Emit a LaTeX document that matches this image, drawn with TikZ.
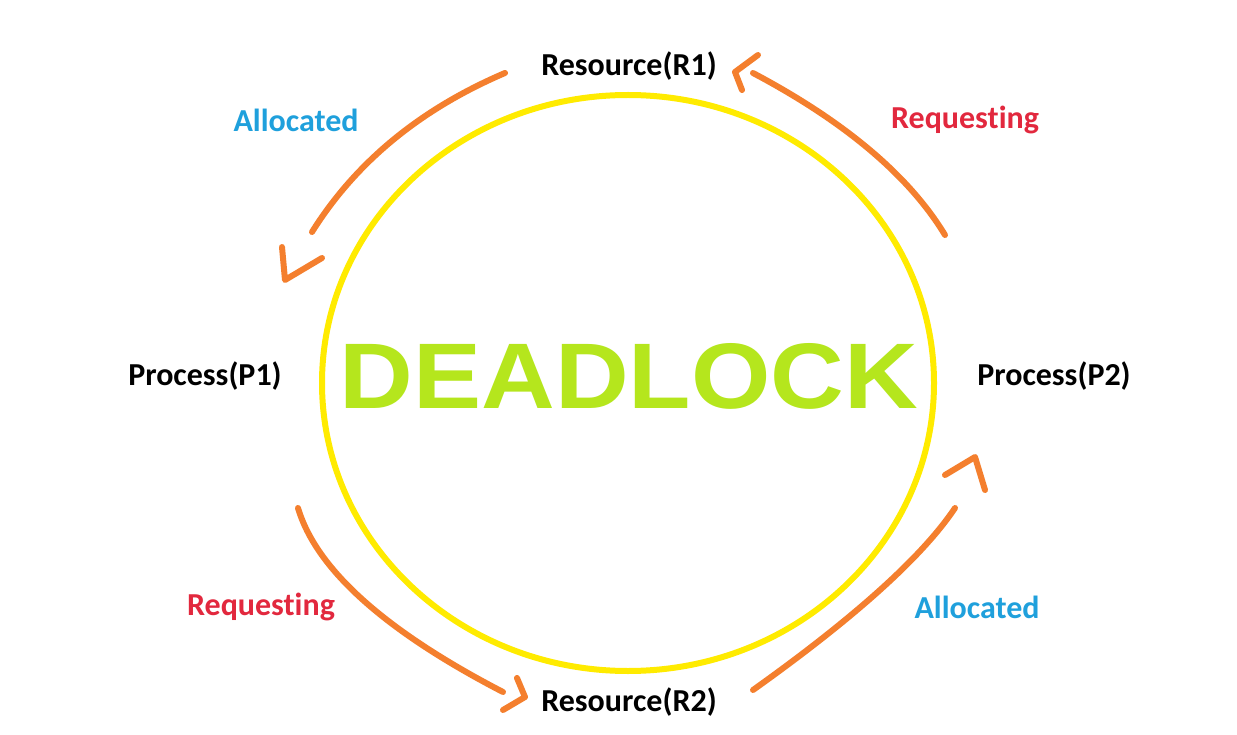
\documentclass[tikz,border=0pt]{standalone}
\usepackage{fontspec}
\setmainfont{Carlito}[Ligatures={NoCommon}]
\newfontfamily\deadfont{Liberation Sans}
\usetikzlibrary{shapes.geometric}
\definecolor{ringyellow}{HTML}{FFEB00}
\definecolor{arroworange}{HTML}{F47F2E}
\definecolor{lime}{HTML}{B5E61D}
\definecolor{allocblue}{HTML}{1FA0DC}
\definecolor{reqred}{HTML}{E2283E}
\tikzset{
  lbl/.style={font=\fontsize{32}{36}\selectfont\bfseries, inner sep=0pt, anchor=center},
  alloc/.style={lbl, text=allocblue},
  req/.style={lbl, text=reqred},
  shaft/.style={draw=arroworange, line width=6pt, line cap=round},
  head/.style={draw=arroworange, line width=6pt, line cap=round, line join=round},
  ring/.style={draw=ringyellow, line width=6pt, ellipse, inner sep=0pt, minimum width=612pt, minimum height=576pt}
}
\begin{document}
\begin{tikzpicture}[x=1pt, y=-1pt]
\useasboundingbox (0,0) rectangle (1237,735);
\fill[white] (0,0) rectangle (1237,735);
\node[ring] (circ) at (628,383) {};
\node[inner sep=0pt, text=lime] (dl) at (629,376) {\resizebox{578pt}{65pt}{\deadfont\bfseries DEADLOCK}};
\node[lbl] (r1) at (629,66) {Resource(R1)};
\node[lbl] (r2) at (629,702) {Resource(R2)};
\node[lbl] (p1) at (205,376) {Process(P1)};
\node[lbl] (p2) at (1054,376) {Process(P2)};
\node[alloc] (a1) at (296,120) {Allocated};
\node[alloc] (a2) at (977,607) {Allocated};
\node[req] (q1) at (965,120) {Request\kern0pt ing};
\node[req] (q2) at (261,607) {Request\kern0pt ing};
% arrow 1: R1 -> P1
\coordinate (s1) at (505,73); \coordinate (e1) at (312,232);
\coordinate (h1a) at (282,247); \coordinate (h1v) at (285,280); \coordinate (h1b) at (322,258);
\draw[shaft] (s1) .. controls (420,109.3) and (355.7,162.3) .. (e1);
\draw[head] (h1a) -- (h1v) -- (h1b);
% arrow 2: P2 -> R1
\coordinate (s2) at (945,235); \coordinate (e2) at (753,73);
\coordinate (h2a) at (758,55); \coordinate (h2v) at (735,72); \coordinate (h2b) at (742,90);
\draw[shaft] (s2) .. controls (909,175.7) and (845,121.7) .. (e2);
\draw[head] (h2a) -- (h2v) -- (h2b);
% arrow 3: P1 -> R2
\coordinate (s3) at (298,508); \coordinate (e3) at (503,692);
\coordinate (h3a) at (517,678); \coordinate (h3v) at (525,697); \coordinate (h3b) at (503,710);
\draw[shaft] (s3) .. controls (316.3,569.3) and (384.7,630.7) .. (e3);
\draw[head] (h3a) -- (h3v) -- (h3b);
% arrow 4: R2 -> P2
\coordinate (s4) at (753,690); \coordinate (e4) at (955,508);
\coordinate (h4a) at (945,475); \coordinate (h4v) at (975,457); \coordinate (h4b) at (985,490);
\draw[shaft] (s4) .. controls (855,617.3) and (922.3,556.7) .. (e4);
\draw[head] (h4a) -- (h4v) -- (h4b);
\end{tikzpicture}
\end{document}
